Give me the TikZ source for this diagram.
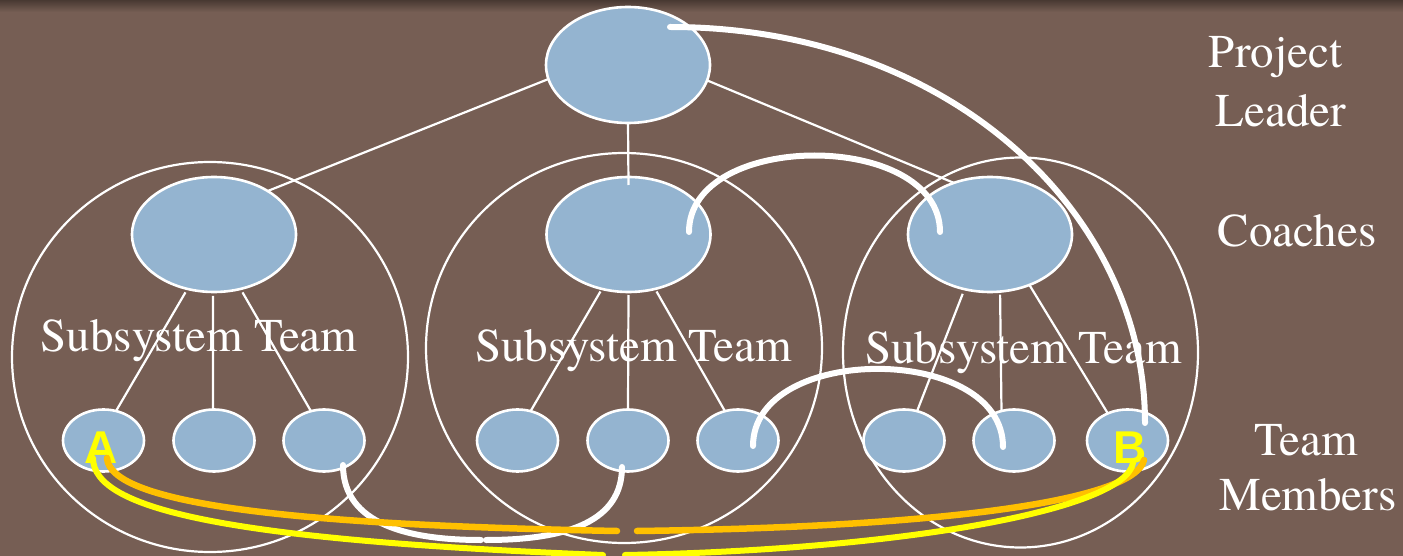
\documentclass[tikz,border=0pt]{standalone}
\usepackage{fontspec}
\newfontfamily\lserif{TeX Gyre Termes}
\newfontfamily\lsans{Liberation Sans}
\usetikzlibrary{shapes.geometric}
\definecolor{bg}{RGB}{118,94,84}
\definecolor{bgdark}{RGB}{72,57,50}
\definecolor{nodefill}{RGB}{148,180,208}
\definecolor{linkorange}{RGB}{255,192,0}
\definecolor{linkyellow}{RGB}{255,255,0}
\tikzset{
  blob/.style={ellipse, draw=white, line width=2.6pt, fill=nodefill, inner sep=0pt, outer sep=0pt},
  bigblob/.style={blob, minimum width=164pt, minimum height=115pt},
  smallblob/.style={blob, minimum width=81pt, minimum height=62pt},
  teamring/.style={ellipse, draw=white, line width=2.2pt, inner sep=0pt, outer sep=0pt},
  thinlink/.style={draw=white, line width=2.2pt},
  thicklink/.style={draw=white, line width=6pt, line cap=round},
  orangelink/.style={draw=linkorange, line width=6.5pt, line cap=round},
  yellowlink/.style={draw=linkyellow, line width=6pt, line cap=round},
  lbl/.style={text=white, inner sep=0pt, anchor=base, font=\lserif\fontsize{47}{52}\selectfont},
  letter/.style={text=linkyellow, inner sep=0pt, anchor=base, font=\lsans\bfseries\fontsize{46}{50}\selectfont}
}
\begin{document}
\begin{tikzpicture}[x=1pt, y=-1pt]
\useasboundingbox (0,0) rectangle (1403,556);
\fill[bg] (0,0) rectangle (1403,556);
\shade[top color=bgdark, bottom color=bg] (0,0) rectangle (1403,12);

% team rings
\node[teamring, minimum width=396pt, minimum height=390pt] (r1) at (210,357) {};
\node[teamring, minimum width=396pt, minimum height=390pt] (r2) at (624,348) {};
\node[teamring, minimum width=355pt, minimum height=390pt] (r3) at (1020.5,352.5) {};

% leader and coaches
\node[bigblob, minimum height=116pt] (lead) at (628,65) {};
\node[bigblob] (c1) at (214,234.5) {};
\node[bigblob] (c2) at (628.5,234.5) {};
\node[bigblob] (c3) at (990,234.5) {};

% members
\node[smallblob] (m1) at (103.5,440.5) {};
\node[smallblob] (m2) at (214,440.5) {};
\node[smallblob] (m3) at (324,440.5) {};
\node[smallblob] (m4) at (517.5,440.5) {};
\node[smallblob] (m5) at (628,440.5) {};
\node[smallblob] (m6) at (738,440.5) {};
\node[smallblob] (m7) at (904,440.5) {};
\node[smallblob] (m8) at (1014,440.5) {};
\node[smallblob] (m9) at (1127.5,440.5) {};

% hierarchy lines
\draw[thinlink] (lead.190) -- (c1.39.8);
\draw[thinlink] (lead.south) -- ([yshift=-8pt]c2.north);
\draw[thinlink] (lead.349.2) -- (c3.125.2);
\draw[thinlink, shorten <=4pt] (c1.244.8) -- (m1.67);
\draw[thinlink, shorten <=4pt] (c1.269) -- (m2.92);
\draw[thinlink, shorten <=4pt] (c1.296) -- (m3.114);
\draw[thinlink, shorten <=3pt] (c2.244.8) -- (m4.66);
\draw[thinlink, shorten <=3pt] (c2.270) -- (m5.90);
\draw[thinlink, shorten <=3pt] (c2.296) -- (m6.114.8);
\draw[thinlink, shorten <=5pt] (c3.245.8) -- (m7.66.7);
\draw[thinlink, shorten <=3pt] (c3.280) -- (m8.113);
\draw[thinlink] (c3.308) -- (m9.126.5);

% texts
\node[lbl] (st1) at (199,351) {Subsystem Team};
\node[lbl] (st2) at (633.5,361) {Subsystem Team};
\node[lbl] (st3) at (1023.5,363) {Subsystem Team};
\node[lbl] (pl1) at (1275.5,68) {Project};
\node[lbl] (pl2) at (1281,127) {Leader};
\node[lbl] (co) at (1297,247) {Coaches};
\node[lbl] (tm1) at (1306,455) {Team};
\node[lbl] (tm2) at (1308,510) {Members};

% communication curves
\coordinate (t1) at (670,27);
\coordinate (t2) at (1145,423);
\coordinate (k1) at (689,232);
\coordinate (k2) at (940,232);
\coordinate (u1) at (753,446);
\coordinate (u2) at (1003,447);
\coordinate (w1) at (343,465);
\coordinate (w2) at (481,540);
\coordinate (w3) at (486,540);
\coordinate (w4) at (622,467);
\draw[thicklink] (t1) .. controls (950,27) and (1145,213) .. (t2);
\draw[thicklink] (k1) .. controls (689,130) and (940,130) .. (k2);
\draw[thicklink] (u1) .. controls (753,343) and (1003,343) .. (u2);
\draw[thicklink] (w1) .. controls (343,525) and (410,540) .. (w2);
\draw[thicklink] (w3) .. controls (570,540) and (622,520) .. (w4);

% letters
\node[letter] (la) at (101.5,463) {A};
\node[letter] (lb) at (1130.5,463) {B};

\coordinate (o1) at (107,458);
\coordinate (o2) at (617,531);
\coordinate (o3) at (637,531);
\coordinate (o4) at (1144,460);
\coordinate (y1) at (93,458);
\coordinate (y2) at (603,555);
\coordinate (y3) at (625,555);
\coordinate (y4) at (1133,463);
\draw[orangelink] (o1) .. controls (110,505) and (300,525) .. (o2);
\draw[orangelink] (o3) .. controls (950,527) and (1135,500) .. (o4);
\draw[yellowlink] (y1) .. controls (93,510) and (230,540) .. (y2);
\draw[yellowlink] (y3) .. controls (900,550) and (1125,510) .. (y4);
\end{tikzpicture}
\end{document}
